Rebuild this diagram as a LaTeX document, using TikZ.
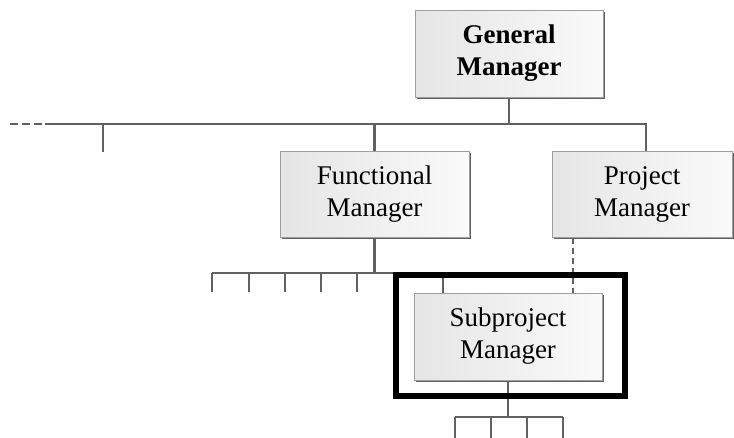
\documentclass[tikz,border=0pt]{standalone}
\usepackage{fontspec}
\setmainfont{Liberation Serif}
\usetikzlibrary{shadows}
\begin{document}
\begin{tikzpicture}[x=1pt,y=-1pt,
  mgrbox/.style={rectangle, draw=black!38, line width=1pt,
    left color=black!10, right color=black!2,
    align=center, inner sep=0pt,
    font=\fontsize{27}{32}\selectfont,
    drop shadow={shadow xshift=1.8pt, shadow yshift=-1.8pt,
      fill=black!62, opacity=1}},
  link/.style={draw=black!62, line width=2.4pt},
  dashlink/.style={link, dash pattern=on 6pt off 4pt},
  focus/.style={draw=black, line width=6pt}
]
\useasboundingbox (0,0) rectangle (734,437);

% managers
\node[mgrbox, minimum width=188pt, minimum height=87pt] (gm) at (509,53.5)
  {\textbf{General}\\\textbf{Manager}};
\node[mgrbox, minimum width=189pt, minimum height=86pt] (fm) at (374.5,194)
  {Functional\\Manager};
\node[mgrbox, minimum width=180pt, minimum height=86pt] (pm) at (642,194)
  {Project\\Manager};
\node[mgrbox, minimum width=188pt, minimum height=87pt] (sm) at (508,336.5)
  {Subproject\\Manager};

% top-level bus
\coordinate (busL) at (10,124);
\coordinate (busS) at (45,124);
\coordinate (busR) at (646,124);
\coordinate (t1) at (103,124);
\coordinate (t1e) at (103,152);
\draw[link, dash pattern=on 8pt off 4pt] (busL) -- (busS);
\draw[link] (busS) -- (busR) -- (busR |- pm.north);
\draw[link] (gm.south) -- (gm.south |- busS);
\draw[link] (fm.north |- busS) -- (fm.north);
\draw[link] (t1) -- (t1e);

% functional staff row
\coordinate (rowL) at (212,273);
\coordinate (rowR) at (443,273);
\draw[link] (fm.south) -- (fm.south |- rowL);
\draw[link] (rowL) -- (rowR) -- (rowR |- sm.north);
\foreach \x in {212,249,285,321,357}
  \draw[link] (\x,273) -- (\x,292);

% project line to subproject manager
\coordinate (pd) at (573,0);
\draw[dashlink] (pd |- pm.south) -- (pd |- sm.north);

% subproject team
\coordinate (bl) at (455,417);
\coordinate (br) at (563,417);
\draw[link] (sm.south) -- (sm.south |- bl);
\draw[link] (bl) -- (br);
\foreach \x in {455,491,527,563}
  \draw[link] (\x,417) -- (\x,440);

% highlight frame
\draw[focus] (395.5,275) rectangle (624.5,396);
\end{tikzpicture}
\end{document}
